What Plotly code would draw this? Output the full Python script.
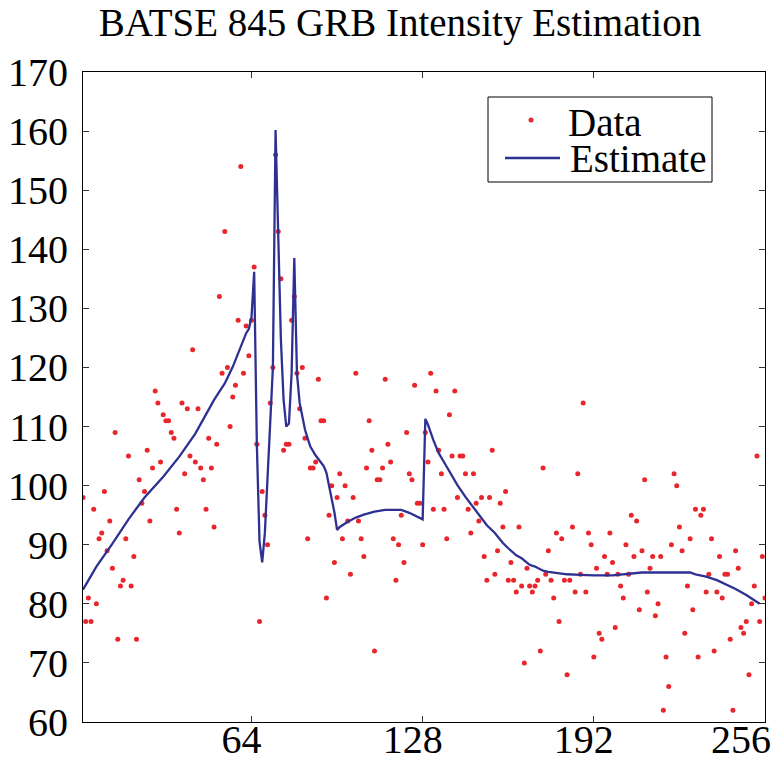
import plotly.graph_objects as go

# ---- data ----
sample_index = list(range(1, 257))
counts = [
    98, 77, 81, 77, 96, 80, 91, 92, 99, 89,
    94, 86, 109, 74, 83, 84, 91, 105, 83, 88,
    74, 101, 97, 99, 106, 94, 103, 116, 114, 104,
    112, 111, 111, 109, 108, 96, 92, 114, 102, 113,
    105, 123, 104, 113, 103, 101, 96, 108, 103, 93,
    107, 132, 119, 143, 120, 110, 115, 117, 128, 154,
    119, 127, 122, 128, 137, 107, 77, 99, 95, 90,
    114, 120, 156, 143, 135, 106, 107, 107, 128, 132,
    119, 113, 120, 108, 91, 103, 103, 104, 118, 111,
    111, 81, 95, 100, 87, 98, 102, 91, 100, 94,
    85, 98, 119, 94, 91, 88, 103, 111, 106, 72,
    101, 101, 103, 118, 107, 104, 91, 84, 90, 95,
    87, 109, 102, 101, 117, 97, 97, 90, 109, 104,
    119, 96, 116, 106, 102, 96, 91, 112, 105, 116,
    98, 105, 105, 102, 96, 92, 102, 97, 94, 98,
    88, 84, 98, 106, 85, 89, 97, 93, 99, 84,
    87, 84, 82, 93, 83, 70, 86, 83, 82, 83,
    84, 72, 103, 85, 89, 84, 81, 92, 77, 91,
    84, 68, 84, 93, 82, 102, 85, 114, 82, 92,
    90, 71, 86, 75, 74, 88, 85, 92, 87, 76,
    85, 83, 81, 90, 85, 95, 88, 94, 79, 89,
    101, 82, 86, 88, 78, 80, 88, 62, 71, 66,
    90, 102, 100, 93, 89, 75, 83, 91, 79, 96,
    71, 95, 96, 82, 85, 91, 72, 82, 88, 81,
    85, 85, 74, 62, 89, 86, 76, 75, 77, 68,
    80, 83, 105, 77, 88, 81,
]

est_x = [1, 6, 12, 18, 24, 31, 37, 43, 50, 54, 57, 60, 62, 63, 64, 65, 66, 67,
         68, 69, 70, 71, 72, 73, 74, 75, 76, 77, 78, 79, 80, 81, 82, 83, 84, 85,
         86, 88, 90, 91, 92, 93, 94, 95, 96, 97, 100, 103, 106, 110, 114, 120,
         123, 125, 127, 128, 129, 130, 132, 134, 137, 141, 144, 148, 152, 155,
         158, 160, 163, 165, 168, 170, 173, 175, 179, 182, 187, 192, 199, 204,
         210, 218, 228, 230, 234, 238, 242, 245, 249, 252, 254]
est_y = [82.4, 86.3, 90.2, 94.3, 98.0, 101.5, 104.9, 108.8, 114.5, 117.3, 120.1,
         123.5, 125.8, 126.5, 128.5, 136.2, 107.0, 90.5, 87.0, 92.0, 102.0, 112.0,
         120.0, 160.2, 142.0, 124.6, 114.5, 110.0, 110.5, 119.0, 138.5, 119.0,
         114.0, 111.5, 109.5, 108.0, 106.6, 105.1, 103.9, 103.3, 102.2, 100.0,
         98.0, 95.5, 92.5, 93.0, 93.9, 94.6, 95.1, 95.6, 95.9, 95.9, 95.4, 95.0,
         94.6, 94.3, 111.3, 110.3, 107.7, 105.5, 103.2, 100.1, 98.1, 95.6, 93.3,
         92.0, 90.3, 89.4, 88.2, 87.7, 86.6, 86.3, 85.6, 85.4, 85.2, 85.0, 84.9,
         84.8, 84.8, 85.0, 85.3, 85.3, 85.3, 85.0, 84.6, 84.0, 83.2, 82.5, 81.5,
         80.6, 80.0]

x_ticks = [64, 128, 192, 256]
# the last label carries a figure space + thin space so it stays inside the page
x_tick_text = ["64", "128", "192", "256\u2007\u2009"]
y_ticks = [60, 70, 80, 90, 100, 110, 120, 130, 140, 150, 160, 170]

RED = "#e8262c"
BLUE = "#2e3192"
FONT = "Liberation Serif"

W, H = 773, 759
L, R, T, B = 83, 8, 72, 37
PW, PH = W - L - R, H - T - B


def px(xp):
    return (xp - L) / PW


def py(yp):
    return (H - B - yp) / PH


fig = go.Figure()
fig.add_trace(go.Scatter(x=sample_index, y=counts, mode="markers",
                         marker=dict(color=RED, size=5, line=dict(width=0)),
                         name="Data", showlegend=False))
fig.add_trace(go.Scatter(x=est_x, y=est_y, mode="lines",
                         line=dict(color=BLUE, width=2.3),
                         name="Estimate", showlegend=False))

axis_common = dict(showline=True, linecolor="black", linewidth=1, mirror="ticks",
                   ticks="inside", ticklen=6, tickwidth=1, tickcolor="#333",
                   showgrid=False, zeroline=False, automargin=False,
                   tickfont=dict(family=FONT, size=40, color="black"))

fig.update_xaxes(range=[1, 256], tickvals=x_ticks, ticktext=x_tick_text,
                 ticklabelshift=-10, ticklabelstandoff=-18,
                 ticklabeloverflow="allow", **axis_common)
fig.update_yaxes(range=[60, 170], tickvals=y_ticks, ticktext=[str(v) for v in y_ticks],
                 ticklabelstandoff=6, **axis_common)

# legend box drawn by hand to match the compact MATLAB legend
shapes = [
    dict(type="rect", xref="paper", yref="paper", x0=px(488), x1=px(712), y0=py(182), y1=py(97),
         line=dict(color="black", width=1), fillcolor="white", layer="above"),
    dict(type="circle", xref="paper", yref="paper", x0=px(528.5), x1=px(533.5),
         y0=py(122.5), y1=py(117.5), line=dict(width=0), fillcolor=RED, layer="above"),
    dict(type="line", xref="paper", yref="paper", x0=px(505), x1=px(560), y0=py(158), y1=py(158),
         line=dict(color=BLUE, width=2.3), layer="above"),
]
annotations = [
    dict(text="Data", xref="paper", yref="paper", x=px(566), y=py(122), xanchor="left",
         yanchor="middle", showarrow=False, height=36,
         font=dict(family=FONT, size=39, color="black")),
    dict(text="Estimate", xref="paper", yref="paper", x=px(568), y=py(158), xanchor="left",
         yanchor="middle", showarrow=False, height=36,
         font=dict(family=FONT, size=39, color="black")),
]

fig.update_layout(
    width=W, height=H, autosize=False,
    margin=dict(l=L, r=R, t=T, b=B),
    paper_bgcolor="white", plot_bgcolor="white",
    title=dict(text="BATSE 845 GRB Intensity Estimation", x=400 / W, xref="container",
               xanchor="center", y=1 - 22 / H, yref="container", yanchor="middle",
               font=dict(family=FONT, size=39, color="black")),
    shapes=shapes, annotations=annotations,
    showlegend=False,
)

fig.write_html("out.html")
